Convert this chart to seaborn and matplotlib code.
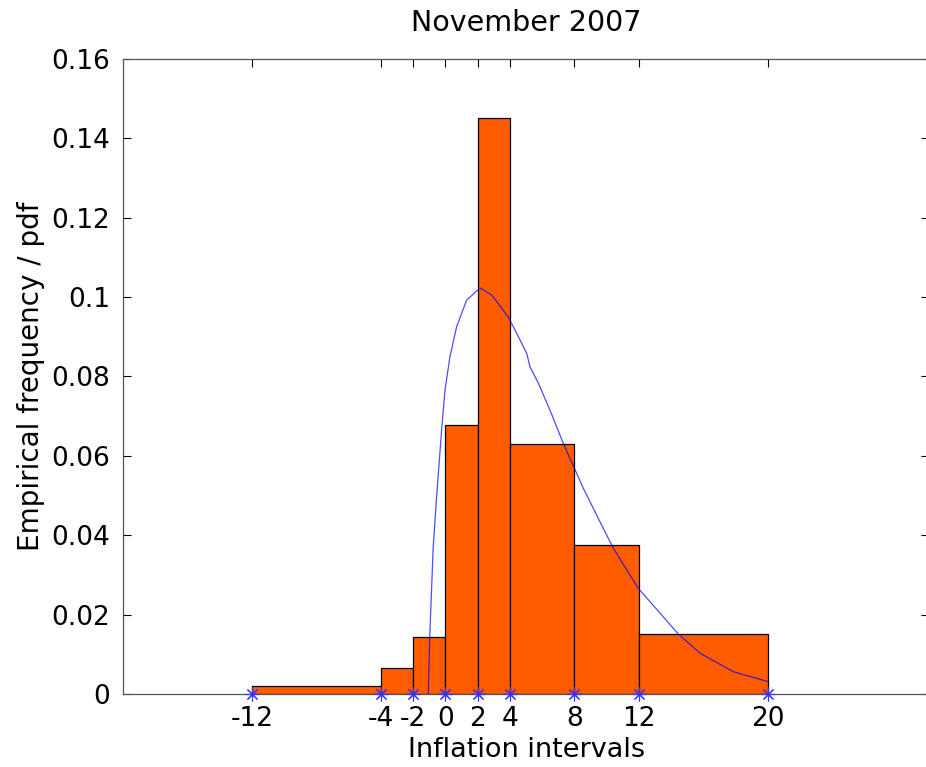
import numpy as np
import pandas as pd
import seaborn as sns
import matplotlib.pyplot as plt

# histogram bins (variable width) and empirical frequency heights
bin_edges = [-12, -4, -2, 0, 2, 4, 8, 12, 20]
bin_heights = [0.002, 0.0065, 0.0143, 0.0678, 0.145, 0.0629, 0.0375, 0.015]

# fitted pdf
pdf_x = [-1.07, -0.96, -0.76, -0.55, -0.24, -0.03, 0.28, 0.69, 1.31, 2.14,
         2.87, 3.89, 4.62, 5.04, 5.24, 5.76, 6.48, 7.31, 8.55, 9.58,
         10.41, 11.96, 14.44, 15.78, 17.85, 20.02]
pdf_y = [0.0, 0.0161, 0.0371, 0.0497, 0.0665, 0.0766, 0.0850, 0.0925, 0.0992, 0.1023,
         0.1005, 0.0950, 0.0892, 0.0858, 0.0824, 0.0783, 0.0715, 0.0631, 0.0518, 0.0434,
         0.0367, 0.0266, 0.0151, 0.0103, 0.0056, 0.0031]

y_ticks = [0, 0.02, 0.04, 0.06, 0.08, 0.1, 0.12, 0.14, 0.16]
y_labels = ["0", "0.02", "0.04", "0.06", "0.08", "0.1", "0.12", "0.14", "0.16"]

sns.set_style("ticks", {"text.color": "black", "axes.labelcolor": "black",
                        "xtick.color": "black", "ytick.color": "black"})
plt.rcParams['font.family'] = ['DejaVu Sans']

fig = plt.figure(figsize=(9.26, 7.67), dpi=100)
ax = fig.add_axes([0.1328, 0.0952, 0.8707, 0.8281])

mids = [(a + b) / 2 for a, b in zip(bin_edges[:-1], bin_edges[1:])]
df = pd.DataFrame({"mid": mids, "h": bin_heights})
sns.histplot(data=df, x="mid", weights="h", bins=bin_edges, stat="count",
             color="#ff5c00", edgecolor="black", linewidth=0.9, alpha=1, ax=ax)

sns.lineplot(x=pdf_x, y=pdf_y, color="blue", linewidth=0.9, sort=False,
             alpha=0.7, ax=ax)

ax.plot(bin_edges, [0] * len(bin_edges), linestyle="none", marker=(8, 2, 0),
        markersize=10, markeredgewidth=0.8, color="#3333ff", clip_on=False, zorder=5)

ax.set_xlim(-20, 30)
ax.set_ylim(0, 0.16)
ax.set_xticks(bin_edges)
ax.set_xticklabels([str(e) for e in bin_edges])
ax.set_yticks(y_ticks)
ax.set_yticklabels(y_labels)
ax.tick_params(direction="in", length=6, width=0.8, top=True, right=True,
               labelsize=19, pad=9, color="black", labelcolor="black")
for s in ax.spines.values():
    s.set_color("#555555")
    s.set_linewidth(0.9)

ax.set_title("November 2007", fontsize=20.5, pad=20, color="black")
ax.set_xlabel("Inflation intervals", fontsize=19.5, labelpad=3, color="black")
ax.set_ylabel("Empirical frequency / pdf", fontsize=20, labelpad=5, color="black")

fig.savefig("out.png", dpi=100)
